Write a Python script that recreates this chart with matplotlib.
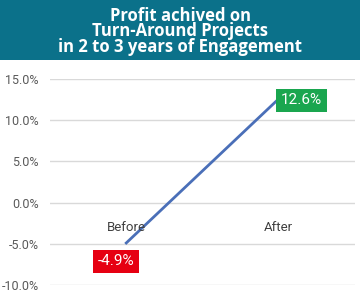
import matplotlib
matplotlib.use("Agg")
import matplotlib.pyplot as plt
from matplotlib.ticker import FuncFormatter

categories = ["Before", "After"]
values = [-4.9, 12.6]
label_texts = ["-4.9%", "12.6%"]
label_colors = ["#e60012", "#1aa64f"]
yticks = [-10, -5, 0, 5, 10, 15]

fig = plt.figure(figsize=(3.6, 3.04), dpi=100)
fig.patch.set_facecolor("white")

# Title banner
banner = fig.add_axes([0, 1 - 60/304, 1, 60/304])
banner.set_facecolor("#0b718a")
banner.set_xticks([]); banner.set_yticks([])
for s in banner.spines.values():
    s.set_visible(False)
banner.text(0.5, 0.48, "Profit achived on\nTurn-Around Projects\nin 2 to 3 years of Engagement",
            ha="center", va="center", color="white", fontsize=12, fontweight="bold",
            family=["Open Sans", "DejaVu Sans"], linespacing=0.82, transform=banner.transAxes)

# Plot area: pixel x 50..355, y 79 (15%) .. 285 (-10%)
left = 50/360; right = 355/360
y15 = 79; y_10 = 285
ax = fig.add_axes([left, 1 - y_10/304, right - left, (y_10 - y15)/304])
ax.set_xlim(-0.5, 1.5)
ax.set_ylim(-10, 15)
ax.set_yticks(yticks)
ax.yaxis.set_major_formatter(FuncFormatter(lambda v, p: f"{v:.1f}%"))
ax.grid(axis="y", color="#d9d9d9", linewidth=1)
ax.set_axisbelow(True)
for s in ax.spines.values():
    s.set_visible(False)
ax.tick_params(axis="y", length=0, pad=8, labelsize=9, labelcolor="#595959")
ax.tick_params(axis="x", length=0)
ax.set_xticks([])
for lab in ax.get_yticklabels():
    lab.set_family(["Roboto", "DejaVu Sans"])

x = list(range(len(categories)))
ax.plot(x, values, color="#4a6fb8", linewidth=2, zorder=3)

for xi, c in zip(x, categories):
    ax.text(xi, -3.0, c, ha="center", va="center", fontsize=9.5, color="#404040",
            family=["Roboto", "DejaVu Sans"], zorder=4)

offsets = [(-0.066, -2.2), (0.15, -0.2)]
for xi, v, t, col, (dx, dy) in zip(x, values, label_texts, label_colors, offsets):
    ax.text(xi + dx, v + dy, t, ha="center", va="center", fontsize=11, color="white",
            family=["Roboto", "DejaVu Sans"], zorder=5,
            bbox=dict(boxstyle="square,pad=0.3", facecolor=col, edgecolor="none"))

fig.savefig("out.png", dpi=100)
